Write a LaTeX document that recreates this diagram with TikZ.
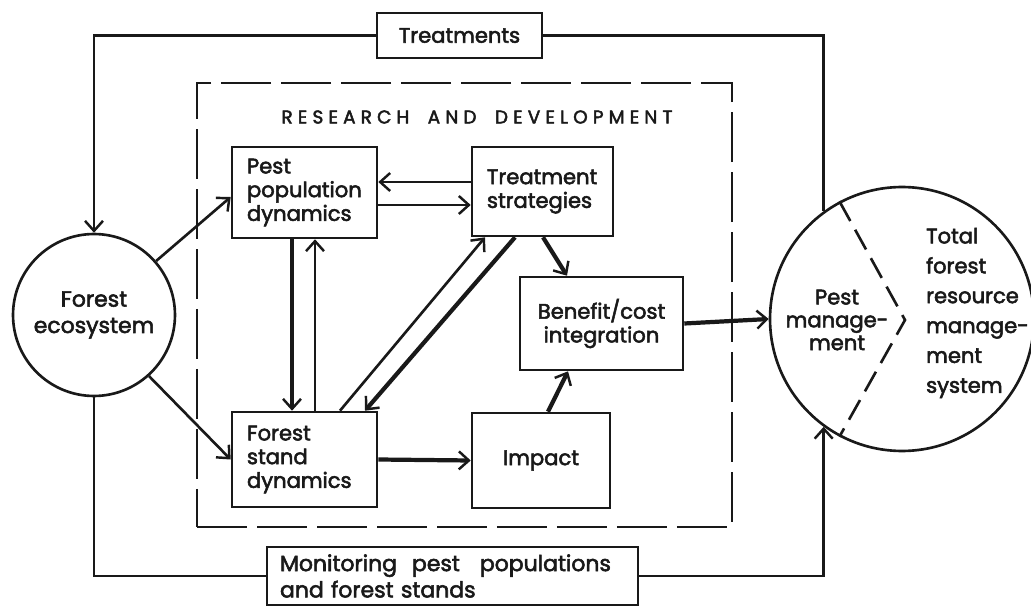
\documentclass[tikz,border=0pt]{standalone}
\usepackage{fontspec}
\setmainfont{Poppins}[FakeBold=2.5]
\usetikzlibrary{arrows.meta,positioning,calc}
\definecolor{ink}{RGB}{25,25,25}

\begin{document}
\begin{tikzpicture}[x=0.02cm,y=-0.02cm,line width=1.5pt,color=ink,
    box/.style={draw,rectangle,inner xsep=0.3cm,inner ysep=0pt,font=\fontsize{12}{13.5}\selectfont},
    tip/.style={-{Straight Barb[length=2mm,width=3.6mm,line width=1.4pt]}},
    heavy/.style={tip,line width=2.4pt}]
  \useasboundingbox (0,0) rectangle (1031,611);

  % outer loop
  \node[box,minimum width=3.3cm,minimum height=0.9cm] (treatments) at (459.5,35.5) {Treatments};
  \node[box,minimum width=7.42cm,minimum height=1.16cm,text width=6.9cm,align=left,inner xsep=0.22cm,
    font=\fontsize{12.5}{15}\selectfont] (monitor) at (452.5,576) {Monitoring\hspace{0.3cm}pest\hspace{0.4cm}populations\\and forest stands};
  \node[circle,draw,minimum size=3.24cm,align=center,font=\fontsize{12.5}{15}\selectfont] (eco) at (94,315) {Forest\\ecosystem};
  \node[circle,draw,minimum size=5.28cm] (pm) at (902,319) {};
  \coordinate (kink) at (905,320);
  \draw[dashed,dash pattern=on 0.45cm off 0.2cm] (pm.118) -- (kink) -- (pm.242);
  \node[align=center,font=\fontsize{12}{13}\selectfont] (pmtext) at (837,320) {Pest\\manage-\\ment};
  \node[align=left,anchor=west,font=\fontsize{12}{17}\selectfont] (tfrms) at (919,313) {Total\\forest\\resource\\manage-\\ment\\system};

  % research and development
  \node[draw,dashed,dash pattern=on 1cm off 0.2cm,minimum width=10.7cm,minimum height=8.88cm] (rd) at (464.5,305) {};
  \node[font=\fontsize{10.5}{12}\selectfont\addfontfeature{LetterSpace=28}] (rdlabel) at (477,117) {RESEARCH\quad AND\quad DEVELOPMENT};
  \node[box,minimum width=2.9cm,minimum height=1.82cm,text width=2.3cm,align=left] (pest) at (304.5,192.5) {Pest\\population\\dynamics};
  \node[box,minimum width=2.82cm,minimum height=1.78cm,text width=2.22cm,align=left] (treat) at (542.5,191.5) {Treatment\\strategies};
  \node[box,minimum width=2.9cm,minimum height=1.9cm,text width=2.3cm,align=left] (fstand) at (304.5,459.5) {Forest\\stand\\dynamics};
  \node[box,minimum width=2.76cm,minimum height=1.9cm] (impact) at (541,460.5) {Impact};
  \node[box,minimum width=3.26cm,minimum height=1.86cm,align=center] (benefit) at (601.5,323.5) {Benefit/cost\\integration};

  % connectors
  \draw[tip] (treatments.west) -| (eco.north);
  \draw (treatments.east) -| (pm.126);
  \draw (monitor.west) -| (eco.south);
  \draw[tip] (monitor.east) -| (pm.234);
  \draw[tip] (eco.41) -- (pest.west |- 0,197);
  \draw[tip] (eco.312) -- (fstand.west);
  \draw[tip] (treat.west |- 0,182) -- (pest.east |- 0,182);
  \draw[tip] (pest.east |- 0,205) -- (treat.west |- 0,205);
  \draw[heavy] (pest.south -| 292,0) -- (fstand.north -| 292,0);
  \draw[tip] (fstand.north -| 315,0) -- (pest.south -| 315,0);
  \draw[tip] (fstand.north -| 340,0) -- (treat.south -| 485,0);
  \draw[heavy] (treat.south -| 515,0) -- (fstand.north -| 365,0);
  \draw[heavy] (treat.south -| 543,0) -- (benefit.north -| 567,0);
  \draw[heavy] (fstand.east) -- (impact.west);
  \draw[heavy] (impact.north -| 548,0) -- (benefit.south -| 568,0);
  \draw[heavy] (benefit.east) -- (pm.west);
\end{tikzpicture}
\end{document}
